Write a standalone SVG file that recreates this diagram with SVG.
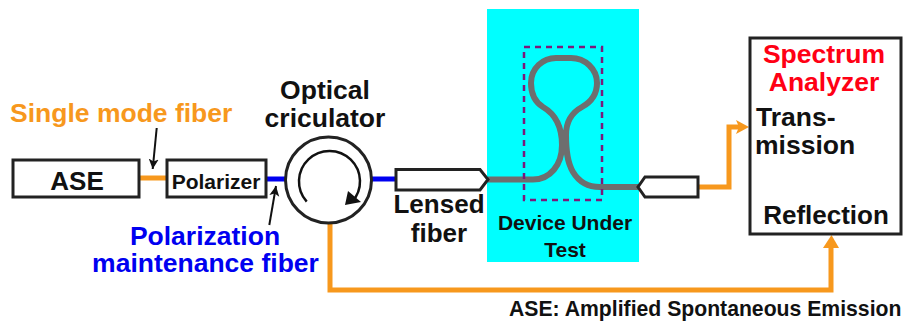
<svg xmlns="http://www.w3.org/2000/svg" width="903" height="323" viewBox="0 0 903 323">
<defs>
<style>
text{font-family:"Liberation Sans",Arial,sans-serif;font-weight:700;fill:#111}
.box{fill:#fff;stroke:#222;stroke-width:3}
.or{fill:none;stroke:#f7981d;stroke-width:5}
.bl{fill:none;stroke:#0000f0;stroke-width:5}
.gr{fill:none;stroke:#6e6e6e;stroke-width:6}
.thin{fill:none;stroke:#111;stroke-width:2}
.c{text-anchor:middle}
</style>
<marker id="ah" markerUnits="userSpaceOnUse" markerWidth="12" markerHeight="12" refX="10" refY="5" orient="auto"><path d="M0 0L10 5L0 10L2.500 5Z" fill="#111"/></marker>
</defs>
<rect width="903" height="323" fill="#fff"/>
<g id="dut-bg"><rect x="487" y="9" width="152" height="253" fill="#00ffff"/></g>
<g id="connectors">
<path class="or" d="M139 178H167"/>
<path class="bl" d="M266 179H286"/>
<path class="bl" d="M371 179H396"/>
<path class="or" d="M698 187H729V127H742"/>
<path d="M736 120L749 127L736 134L739 127Z" fill="#f7981d"/>
<path class="or" d="M330 222V290H831V246"/>
<path d="M823 248L831.500 235L839 248Z" fill="#f7981d"/>
<path class="thin" d="M156.700 128L152.700 169" marker-end="url(#ah)"/>
<path class="thin" d="M269.300 225L276 186" marker-end="url(#ah)"/>
<path class="gr" d="M488 179.500H533C550 179.500 562 165 562 145C562 125 555 114 543 107C535 102 531 93 531 83C531 68 543 58 556 58H571C585 58 597 69 597 83C597 94 591 102 582 107C571 113 566 122 566 135C566 150 567 162 573 172C579 182 588 187 600 187H638"/>
</g>
<g id="ase"><rect class="box" x="13" y="160" width="126" height="37"/><text class="c" x="77" y="190" font-size="26">ASE</text></g>
<g id="polarizer"><rect class="box" x="167" y="160" width="99" height="37"/><text class="c" x="216" y="189" font-size="21">Polarizer</text></g>
<g id="circulator"><circle class="box" cx="328.500" cy="180" r="43"/><path fill="none" stroke="#111" stroke-width="2.500" d="M306.700 201.700A30.500 30.500 0 1 1 352 202"/><path d="M345 205L348 191L361 202Z" fill="#111"/></g>
<g id="lensed-fiber"><path class="box" d="M396 169.500H480L488 179.500L480 190H396Z"/></g>
<g id="device-frame"><rect x="524" y="47" width="78" height="153" fill="none" stroke="#7b1a7b" stroke-width="2.500" stroke-dasharray="6 5"/></g>
<g id="output-fiber"><path class="box" d="M698 177H645L638 187L645 197H698Z"/></g>
<g id="spectrum-analyzer"><rect class="box" x="750" y="38" width="151" height="196"/>
<text class="c" x="824" y="63" font-size="26.500" style="fill:#ff0014">Spectrum</text>
<text class="c" x="824" y="91" font-size="26.500" style="fill:#ff0014">Analyzer</text>
<text x="756" y="126" font-size="26.500">Trans-</text>
<text x="755" y="154" font-size="26.500">mission</text>
<text class="c" x="826" y="224" font-size="26">Reflection</text></g>
<g id="labels">
<text x="10" y="122" font-size="26.500" style="fill:#f7981d">Single mode fiber</text>
<text class="c" x="325" y="99" font-size="26.500">Optical</text>
<text class="c" x="325" y="127" font-size="26.500">criculator</text>
<text class="c" x="205" y="245" font-size="26.500" style="fill:#0000f0">Polarization</text>
<text class="c" x="205.500" y="272" font-size="26.500" style="fill:#0000f0">maintenance fiber</text>
<text class="c" x="439" y="213" font-size="26">Lensed</text>
<text class="c" x="439" y="242" font-size="26">fiber</text>
<text class="c" x="565" y="230" font-size="21">Device Under</text>
<text class="c" x="565" y="257" font-size="21">Test</text>
<text x="509" y="316" font-size="21.200">ASE: Amplified Spontaneous Emission</text>
</g>
</svg>
